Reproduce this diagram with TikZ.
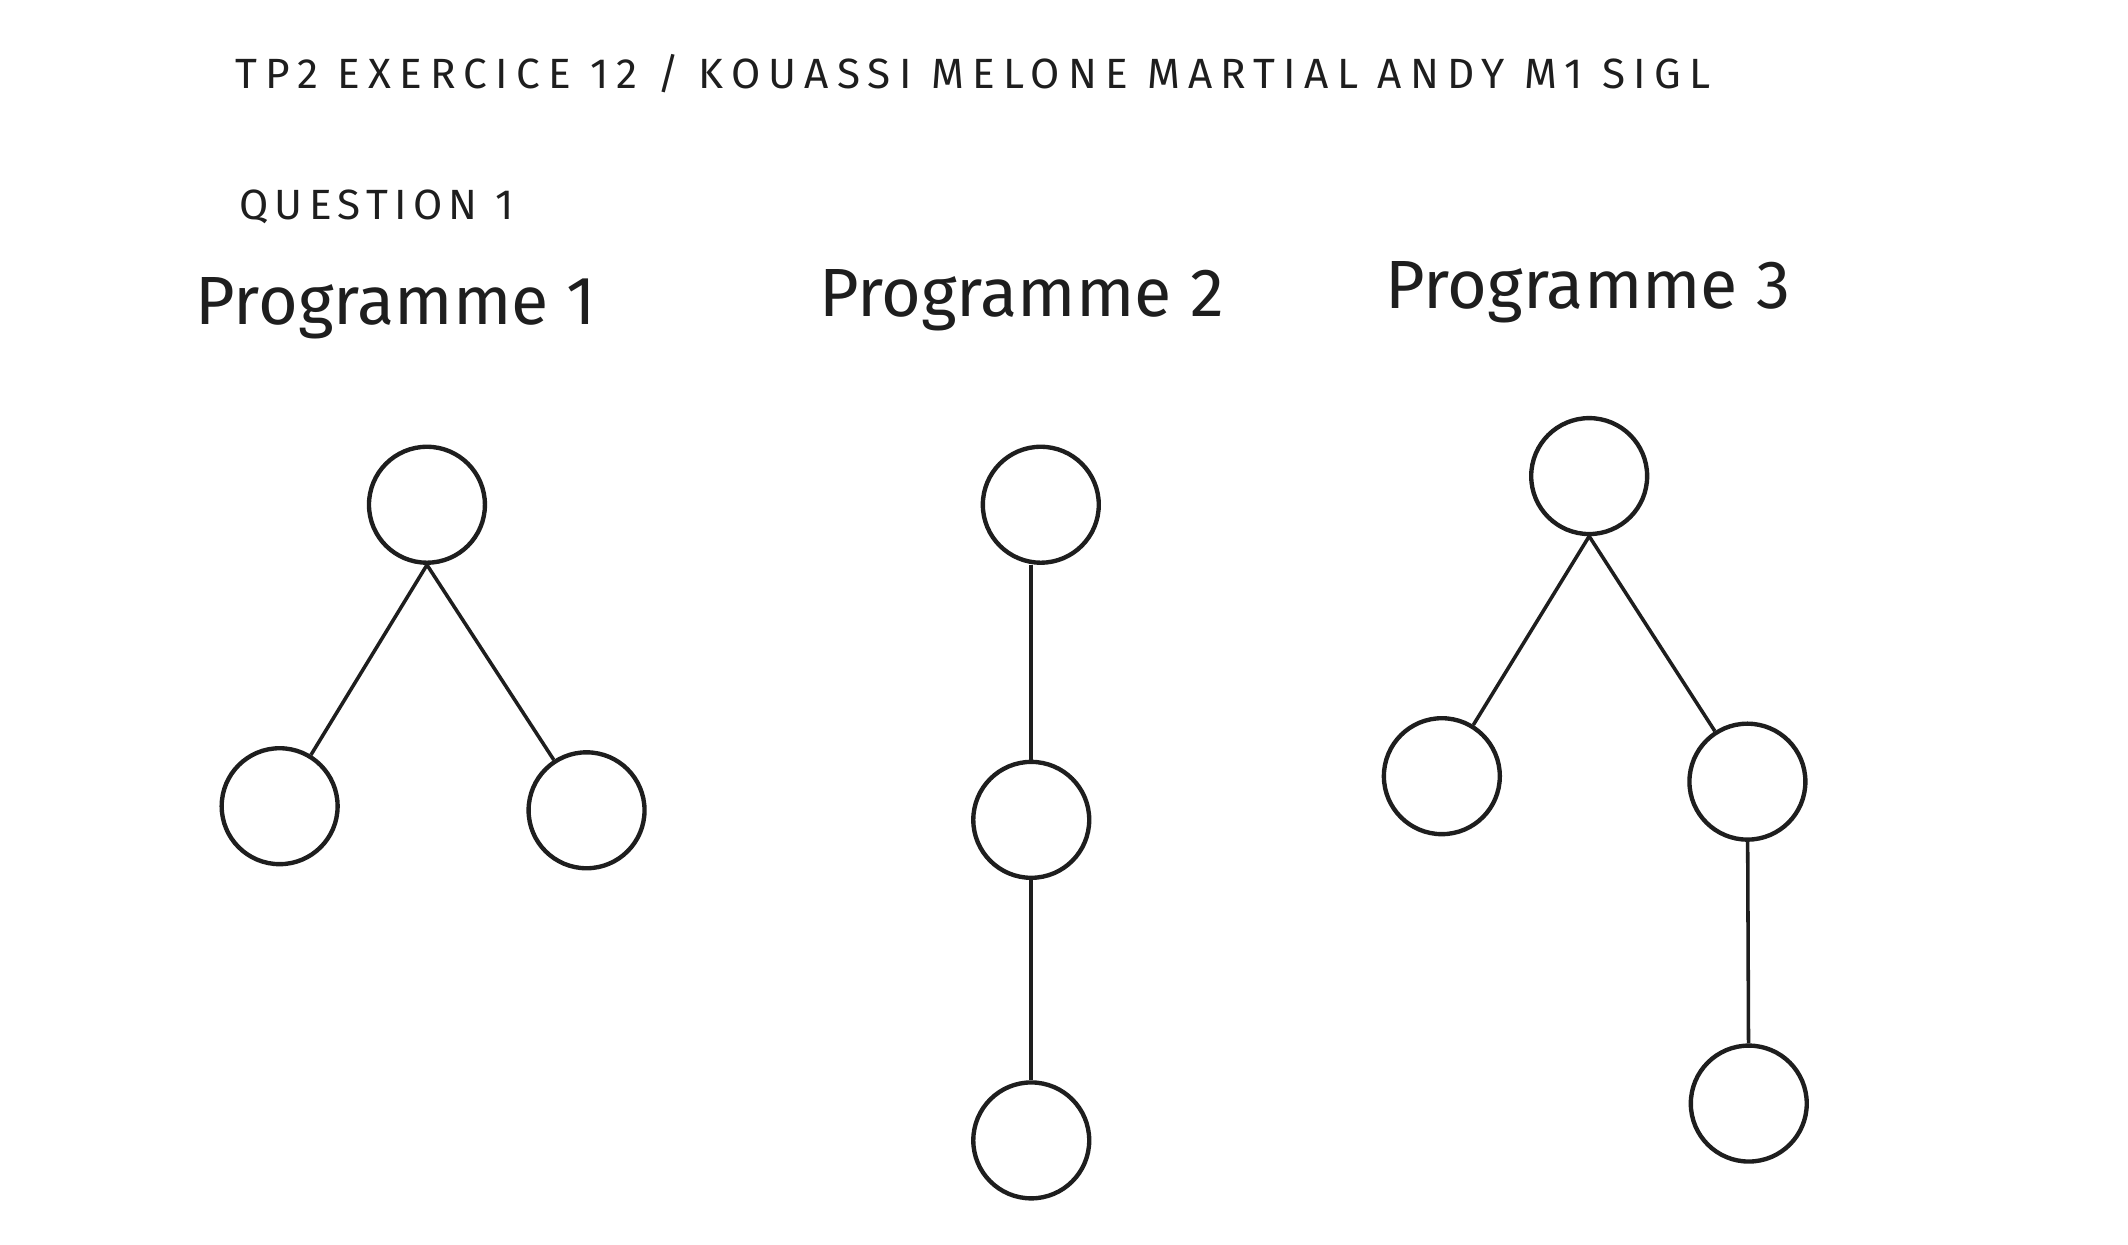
\documentclass[tikz,border=0pt]{standalone}
\usepackage{fontspec}
\setmainfont{Fira Sans}
\definecolor{ink}{HTML}{1E1E1E}
\begin{document}
\begin{tikzpicture}[x=0.5pt,y=-0.5pt,
  tnode/.style={circle,draw=ink,line width=1.6pt,minimum size=42.5pt,inner sep=0pt},
  edge/.style={draw=ink,line width=1.3pt},
  small/.style={anchor=base west,inner sep=0pt,text=ink,font=\fontsize{15.5}{18}\selectfont\addfontfeatures{LetterSpace=19.5}},
  big/.style={anchor=base west,inner sep=0pt,text=ink,font=\fontsize{25}{30}\selectfont}]
\useasboundingbox (0,0) rectangle (1560,912);
\node[small] (title) at (172,65) {TP2 EXERCICE 12 / KOUASSI MELONE MARTIAL ANDY M1 SIGL};
\node[small,font=\fontsize{15.5}{18}\selectfont\addfontfeatures{LetterSpace=15}] (q1) at (175,161) {QUESTION 1};
\node[big] (p1) at (143,238) {Programme 1};
\node[big] (p2) at (600,232) {Programme 2};
\node[big] (p3) at (1015,226) {Programme 3};
% Programme 1
\node[tnode] (a1) at (313,370) {};
\node[tnode] (a2) at (205,591) {};
\node[tnode] (a3) at (430,594) {};
\draw[edge] (a1.south) -- (a2);
\draw[edge] (a1.south) -- (a3);
% Programme 2
\node[tnode] (b1) at (763,370) {};
\node[tnode] (b2) at (756,601) {};
\node[tnode] (b3) at (756,836) {};
\draw[edge] (b2.north |- b1.south) -- (b2.north);
\draw[edge] (b2) -- (b3);
% Programme 3
\node[tnode] (c1) at (1165,349) {};
\node[tnode] (c2) at (1057,569) {};
\node[tnode] (c3) at (1281,573) {};
\node[tnode] (c4) at (1282,809) {};
\draw[edge] (c1.south) -- (c2);
\draw[edge] (c1.south) -- (c3);
\draw[edge] (c3) -- (c4);
\end{tikzpicture}
\end{document}
